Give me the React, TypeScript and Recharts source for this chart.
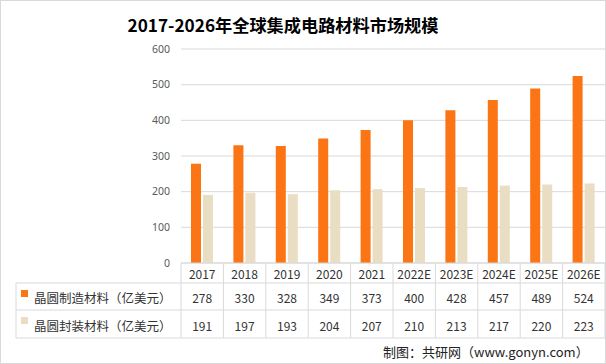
import { BarChart, Bar, XAxis, YAxis, CartesianGrid } from 'recharts';

const years = ['2017', '2018', '2019', '2020', '2021', '2022E', '2023E', '2024E', '2025E', '2026E'];
const waferFab = [278, 330, 328, 349, 373, 400, 428, 457, 489, 524];
const waferPack = [191, 197, 193, 204, 207, 210, 213, 217, 220, 223];
const seriesNames = ['晶圆制造材料（亿美元）', '晶圆封装材料（亿美元）'];
const yTicks = [0, 100, 200, 300, 400, 500, 600];

const COLORS = ['#FB7514', '#E9DDC3'];
const GRID = '#d9d9d9';
const CJK = '"Noto Sans CJK SC", "Noto Sans", sans-serif';

const W = 606;
const H = 364;
const Y_AXIS_W = 181;
const MARGIN = { top: 49, right: 1, left: 0, bottom: 26 };
const X_AXIS_H = 75;
const BAND = (W - Y_AXIS_W - MARGIN.left - MARGIN.right) / years.length;
const ROWS = [20, 27, 28];
const LEGEND_LEFT = 16;

const data = years.map((year, i) => ({ year, fab: waferFab[i], pack: waferPack[i] }));
const rows = [waferFab, waferPack];

function TableTick(props: any) {
  const { x, y, payload } = props;
  const i = payload.index as number;
  const l = x - BAND / 2;
  const r = x + BAND / 2;
  const y1 = y + ROWS[0];
  const y2 = y1 + ROWS[1];
  const y3 = y2 + ROWS[2];
  const txt = { fontFamily: CJK, fontSize: 12, fill: '#333' };
  return (
    <g>
      <line x1={l} x2={r} y1={y} y2={y} stroke={GRID} />
      <line x1={l} x2={r} y1={y1} y2={y1} stroke={GRID} />
      <line x1={l} x2={r} y1={y2} y2={y2} stroke={GRID} />
      <line x1={l} x2={r} y1={y3} y2={y3} stroke={GRID} />
      <line x1={l} x2={l} y1={y} y2={y3} stroke={GRID} />
      {i === years.length - 1 && <line x1={r} x2={r} y1={y} y2={y3} stroke={GRID} />}
      <text x={x} y={y + ROWS[0] / 2} textAnchor="middle" dominantBaseline="central" {...txt}>
        {payload.value}
      </text>
      {rows.map((vals, k) => (
        <text
          key={k}
          x={x}
          y={(k === 0 ? y1 + ROWS[1] / 2 : y2 + ROWS[2] / 2) + 1}
          textAnchor="middle"
          dominantBaseline="central"
          {...txt}
        >
          {vals[i]}
        </text>
      ))}
      {i === 0 && (
        <g>
          <line x1={LEGEND_LEFT} x2={l} y1={y1} y2={y1} stroke={GRID} />
          <line x1={LEGEND_LEFT} x2={l} y1={y2} y2={y2} stroke={GRID} />
          <line x1={LEGEND_LEFT} x2={l} y1={y3} y2={y3} stroke={GRID} />
          <line x1={LEGEND_LEFT} x2={LEGEND_LEFT} y1={y1} y2={y3} stroke={GRID} />
          {seriesNames.map((name, k) => {
            const top = k === 0 ? y1 : y2;
            return (
              <g key={name}>
                <rect x={21} y={top + 7} width={7} height={7} fill={COLORS[k]} />
                <text x={34} y={top + ROWS[k + 1] / 2 + 1} dominantBaseline="central" {...txt} fontSize={12.5}>
                  {name}
                </text>
              </g>
            );
          })}
        </g>
      )}
    </g>
  );
}

export default function App() {
  return (
    <div style={{ position: 'absolute', left: 0, top: 0, width: W, height: H, background: '#fff' }}>
      <div
        style={{
          position: 'absolute',
          left: 0,
          top: 14,
          width: 566,
          textAlign: 'center',
          fontFamily: CJK,
          fontWeight: 'bold',
          fontSize: 17.2,
          lineHeight: '22px',
          color: '#000',
        }}
      >
        2017-2026年全球集成电路材料市场规模
      </div>
      <BarChart width={W} height={H} data={data} margin={MARGIN} barSize={10} barGap={2}>
        <CartesianGrid vertical={false} stroke={GRID} />
        <YAxis
          width={Y_AXIS_W}
          domain={[0, 600]}
          ticks={yTicks}
          axisLine={false}
          tickLine={false}
          tickSize={0}
          tickMargin={11}
          tick={{ fill: '#595959', fontSize: 10.5, fontFamily: '"Noto Sans", sans-serif' }}
        />
        <XAxis
          dataKey="year"
          height={X_AXIS_H}
          interval={0}
          axisLine={false}
          tickLine={false}
          tickSize={0}
          tickMargin={0}
          tick={TableTick}
        />
        <Bar dataKey="fab" name={seriesNames[0]} fill={COLORS[0]} isAnimationActive={false} />
        <Bar dataKey="pack" name={seriesNames[1]} fill={COLORS[1]} isAnimationActive={false} />
      </BarChart>
      <div
        style={{
          position: 'absolute',
          left: 383,
          top: 343,
          fontFamily: CJK,
          fontSize: 13,
          lineHeight: '18px',
          color: '#222',
          whiteSpace: 'nowrap',
        }}
      >
        制图：共研网（www.gonyn.com）
      </div>
      <div
        style={{
          position: 'absolute',
          inset: 0,
          border: `1px solid ${GRID}`,
          boxSizing: 'border-box',
          pointerEvents: 'none',
        }}
      />
    </div>
  );
}
